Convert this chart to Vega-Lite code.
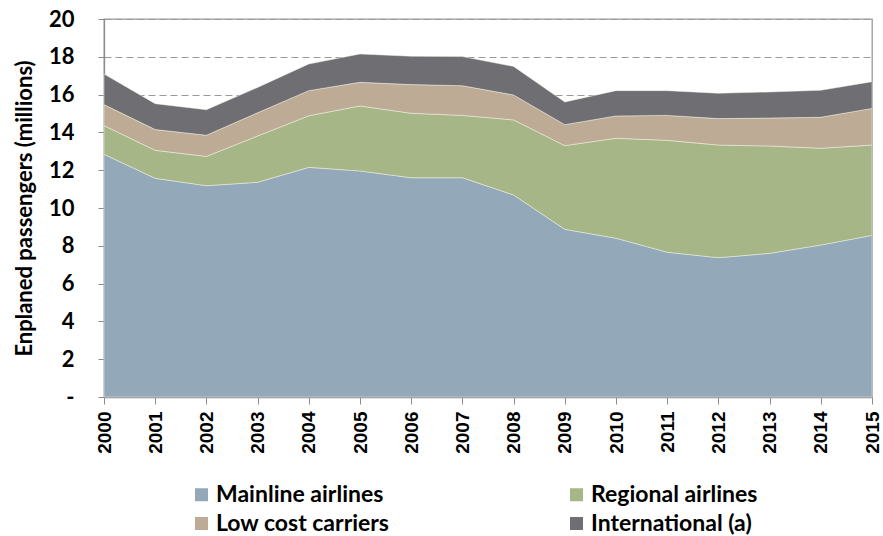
{
  "$schema": "https://vega.github.io/schema/vega-lite/v6.json",
  "width": 768,
  "height": 378,
  "autosize": {"type": "none"},
  "padding": {"left": 104, "top": 19, "right": 11, "bottom": 139},
  "background": "white",
  "config": {
    "view": {"stroke": "#9a9a9a", "strokeWidth": 1.3},
    "font": "Lato"
  },
  "data": {
    "values": [
      {"year": 2000, "series": "Mainline airlines", "o": 1, "v": 12.84},
      {"year": 2001, "series": "Mainline airlines", "o": 1, "v": 11.57},
      {"year": 2002, "series": "Mainline airlines", "o": 1, "v": 11.18},
      {"year": 2003, "series": "Mainline airlines", "o": 1, "v": 11.36},
      {"year": 2004, "series": "Mainline airlines", "o": 1, "v": 12.15},
      {"year": 2005, "series": "Mainline airlines", "o": 1, "v": 11.96},
      {"year": 2006, "series": "Mainline airlines", "o": 1, "v": 11.6},
      {"year": 2007, "series": "Mainline airlines", "o": 1, "v": 11.6},
      {"year": 2008, "series": "Mainline airlines", "o": 1, "v": 10.69},
      {"year": 2009, "series": "Mainline airlines", "o": 1, "v": 8.87},
      {"year": 2010, "series": "Mainline airlines", "o": 1, "v": 8.4},
      {"year": 2011, "series": "Mainline airlines", "o": 1, "v": 7.66},
      {"year": 2012, "series": "Mainline airlines", "o": 1, "v": 7.37},
      {"year": 2013, "series": "Mainline airlines", "o": 1, "v": 7.6},
      {"year": 2014, "series": "Mainline airlines", "o": 1, "v": 8.04},
      {"year": 2015, "series": "Mainline airlines", "o": 1, "v": 8.55},
      {"year": 2000, "series": "Regional airlines", "o": 2, "v": 1.52},
      {"year": 2001, "series": "Regional airlines", "o": 2, "v": 1.48},
      {"year": 2002, "series": "Regional airlines", "o": 2, "v": 1.55},
      {"year": 2003, "series": "Regional airlines", "o": 2, "v": 2.45},
      {"year": 2004, "series": "Regional airlines", "o": 2, "v": 2.73},
      {"year": 2005, "series": "Regional airlines", "o": 2, "v": 3.44},
      {"year": 2006, "series": "Regional airlines", "o": 2, "v": 3.41},
      {"year": 2007, "series": "Regional airlines", "o": 2, "v": 3.3},
      {"year": 2008, "series": "Regional airlines", "o": 2, "v": 3.97},
      {"year": 2009, "series": "Regional airlines", "o": 2, "v": 4.43},
      {"year": 2010, "series": "Regional airlines", "o": 2, "v": 5.29},
      {"year": 2011, "series": "Regional airlines", "o": 2, "v": 5.92},
      {"year": 2012, "series": "Regional airlines", "o": 2, "v": 5.96},
      {"year": 2013, "series": "Regional airlines", "o": 2, "v": 5.68},
      {"year": 2014, "series": "Regional airlines", "o": 2, "v": 5.12},
      {"year": 2015, "series": "Regional airlines", "o": 2, "v": 4.78},
      {"year": 2000, "series": "Low cost carriers", "o": 3, "v": 1.11},
      {"year": 2001, "series": "Low cost carriers", "o": 3, "v": 1.1},
      {"year": 2002, "series": "Low cost carriers", "o": 3, "v": 1.12},
      {"year": 2003, "series": "Low cost carriers", "o": 3, "v": 1.23},
      {"year": 2004, "series": "Low cost carriers", "o": 3, "v": 1.33},
      {"year": 2005, "series": "Low cost carriers", "o": 3, "v": 1.25},
      {"year": 2006, "series": "Low cost carriers", "o": 3, "v": 1.52},
      {"year": 2007, "series": "Low cost carriers", "o": 3, "v": 1.57},
      {"year": 2008, "series": "Low cost carriers", "o": 3, "v": 1.32},
      {"year": 2009, "series": "Low cost carriers", "o": 3, "v": 1.11},
      {"year": 2010, "series": "Low cost carriers", "o": 3, "v": 1.18},
      {"year": 2011, "series": "Low cost carriers", "o": 3, "v": 1.32},
      {"year": 2012, "series": "Low cost carriers", "o": 3, "v": 1.4},
      {"year": 2013, "series": "Low cost carriers", "o": 3, "v": 1.48},
      {"year": 2014, "series": "Low cost carriers", "o": 3, "v": 1.64},
      {"year": 2015, "series": "Low cost carriers", "o": 3, "v": 1.94},
      {"year": 2000, "series": "International (a)", "o": 4, "v": 1.62},
      {"year": 2001, "series": "International (a)", "o": 4, "v": 1.37},
      {"year": 2002, "series": "International (a)", "o": 4, "v": 1.35},
      {"year": 2003, "series": "International (a)", "o": 4, "v": 1.34},
      {"year": 2004, "series": "International (a)", "o": 4, "v": 1.41},
      {"year": 2005, "series": "International (a)", "o": 4, "v": 1.5},
      {"year": 2006, "series": "International (a)", "o": 4, "v": 1.5},
      {"year": 2007, "series": "International (a)", "o": 4, "v": 1.54},
      {"year": 2008, "series": "International (a)", "o": 4, "v": 1.51},
      {"year": 2009, "series": "International (a)", "o": 4, "v": 1.2},
      {"year": 2010, "series": "International (a)", "o": 4, "v": 1.34},
      {"year": 2011, "series": "International (a)", "o": 4, "v": 1.31},
      {"year": 2012, "series": "International (a)", "o": 4, "v": 1.34},
      {"year": 2013, "series": "International (a)", "o": 4, "v": 1.38},
      {"year": 2014, "series": "International (a)", "o": 4, "v": 1.43},
      {"year": 2015, "series": "International (a)", "o": 4, "v": 1.41}
    ]
  },
  "mark": {"type": "area", "stroke": "#f4f4e8", "strokeWidth": 0.6, "strokeOpacity": 0.8},
  "encoding": {
    "x": {
      "field": "year",
      "type": "quantitative",
      "scale": {"domain": [2000, 2015], "nice": false, "zero": false},
      "axis": {
        "title": null,
        "values": [2000, 2001, 2002, 2003, 2004, 2005, 2006, 2007, 2008, 2009, 2010, 2011, 2012, 2013, 2014, 2015],
        "format": "d",
        "labelAngle": -90,
        "labelFont": "Liberation Sans Narrow, Liberation Sans",
        "labelFontWeight": "bold",
        "labelFontSize": 19,
        "labelColor": "#000000",
        "labelPadding": 7,
        "tickSize": 7,
        "tickColor": "#8c8c8c",
        "domainColor": "#8c8c8c",
        "domainWidth": 1.3,
        "grid": false,
        "labelFlush": false,
        "labelOverlap": false
      }
    },
    "y": {
      "field": "v",
      "type": "quantitative",
      "stack": "zero",
      "scale": {"domain": [0, 20], "nice": false},
      "axis": {
        "title": "Enplaned passengers (millions)",
        "titleFont": "Lato",
        "titleFontSize": 22,
        "titleFontWeight": "bold",
        "titleColor": "#000000",
        "titlePadding": 12,
        "values": [0, 2, 4, 6, 8, 10, 12, 14, 16, 18, 20],
        "labelExpr": "datum.value == 0 ? '-\u00a0\u00a0\u00a0' : datum.label",
        "labelFont": "Lato",
        "labelFontSize": 22,
        "labelFontWeight": "bold",
        "labelColor": "#000000",
        "labelPadding": 24,
        "tickSize": 6,
        "tickColor": "#8c8c8c",
        "domainColor": "#8c8c8c",
        "domainWidth": 1.3,
        "grid": true,
        "gridColor": "#9a9a9a",
        "gridDash": [7, 4],
        "gridWidth": 1.2
      }
    },
    "color": {
      "field": "series",
      "type": "nominal",
      "scale": {
        "domain": ["Mainline airlines", "Regional airlines", "Low cost carriers", "International (a)"],
        "range": ["#93a8b8", "#a6b687", "#bdab95", "#6e6e73"]
      },
      "legend": {
        "title": null,
        "orient": "none",
        "direction": "horizontal",
        "legendX": 86,
        "legendY": 464,
        "columns": 2,
        "columnPadding": 175,
        "rowPadding": 5,
        "symbolType": "square",
        "symbolSize": 169,
        "symbolStrokeWidth": 0,
        "symbolOpacity": 1,
        "labelFont": "Lato",
        "labelFontSize": 23,
        "labelFontWeight": "bold",
        "labelColor": "#000000",
        "labelOffset": 3,
        "labelLimit": 400
      }
    },
    "order": {"field": "o", "type": "quantitative"}
  }
}
